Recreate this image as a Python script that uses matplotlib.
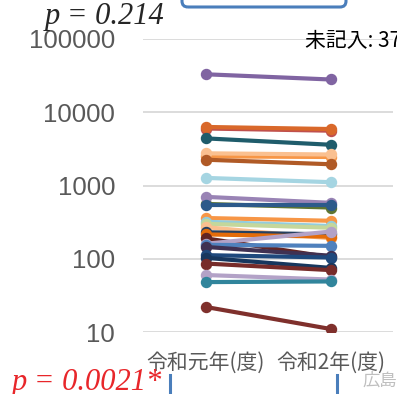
import matplotlib.pyplot as plt
from matplotlib.patches import FancyBboxPatch
from matplotlib.lines import Line2D

plt.rcParams['font.family'] = ['Noto Sans CJK JP', 'DejaVu Sans']

categories = ["令和元年(度)", "令和2年(度)"]

# value in year 1, value in year 2, colour (one entry per line)
left_vals = [560, 33000, 6000, 6300, 4400, 2500, 2750, 2250, 1270,
             700, 550, 360, 320, 300, 270, 230, 215, 190,
             160, 155, 145, 112, 103, 86, 60, 48, 22]
right_vals = [500, 28000, 5600, 5900, 3600, 2450, 2650, 1950, 1110,
              580, 550, 330, 280, 265, 190, 215, 200, 105,
              235, 150, 110, 104, 75, 70, 52, 49, 11]
colors = ['#5f7530', '#8064a2', '#c0504d', '#d9682a', '#1f5c6b', '#f79646', '#fac090',
          '#b05a26', '#a5d5e2', '#9983b5', '#2c5a8a', '#f79646',
          '#93cddd', '#c4d79b', '#fabf8f', '#254061', '#e46c0a', '#632523',
          '#b3a2c7', '#4f81bd', '#403152', '#1f497d', '#17375e', '#772c2a',
          '#b3a2c7', '#31859c', '#7f302c']

W, H = 397, 394
fig = plt.figure(figsize=(W / 100, H / 100), dpi=100)
ax = fig.add_axes([143 / W, 1 - 332 / H, 250 / W, 293 / H])

for a, b, c in zip(left_vals, right_vals, colors):
    ax.plot([0, 1], [a, b], color=c, lw=3.0, marker='o', ms=7.2, solid_capstyle='round')

ax.set_yscale('log')
ax.set_ylim(10, 100000)
ax.set_xlim(-0.5, 1.5)
ax.set_yticks([10, 100, 1000, 10000, 100000])
ax.set_yticklabels(['10', '100', '1000', '10000', '100000'],
                   fontfamily='Liberation Sans', fontsize=18.5, color='#595959')
ax.minorticks_off()
ax.set_xticks([0, 1])
ax.set_xticklabels(categories, fontsize=15, color='#595959')
ax.tick_params(axis='y', length=0, pad=20)
ax.tick_params(axis='x', length=0, pad=14)
ax.grid(axis='y', color='#d9d9d9', lw=1.3)
ax.set_axisbelow(True)
for s in ax.spines.values():
    s.set_visible(False)

# annotations around the chart
fig.text(45 / W, 1 - 24 / H, "p = 0.214", fontfamily='Liberation Serif', style='italic',
         fontsize=22, color='#262626', va='baseline')
fig.text(12 / W, 1 - 390 / H, "p = 0.0021*", fontfamily='Liberation Serif', style='italic',
         fontsize=22, color='#e8262a', va='baseline')
fig.text(305 / W, 1 - 41 / H, "未記入: 37", fontsize=15, color='black', va='center')
fig.text(362 / W, 1 - 381 / H, "広島", fontsize=12.5, color='#bfbfbf', va='center')

box = FancyBboxPatch((182 / W, 1 - 7 / H), 164 / W, 30 / H,
                     boxstyle='round,pad=0,rounding_size=0.015',
                     transform=fig.transFigure, fill=False, ec='#4a7ebb', lw=2.2)
fig.patches.append(box)
for xp in (170, 337):
    fig.lines.append(Line2D([xp / W, xp / W], [1 - 375 / H, 0], transform=fig.transFigure,
                            color='#4a7ebb', lw=2.2))

fig.savefig('out.png', dpi=100)
